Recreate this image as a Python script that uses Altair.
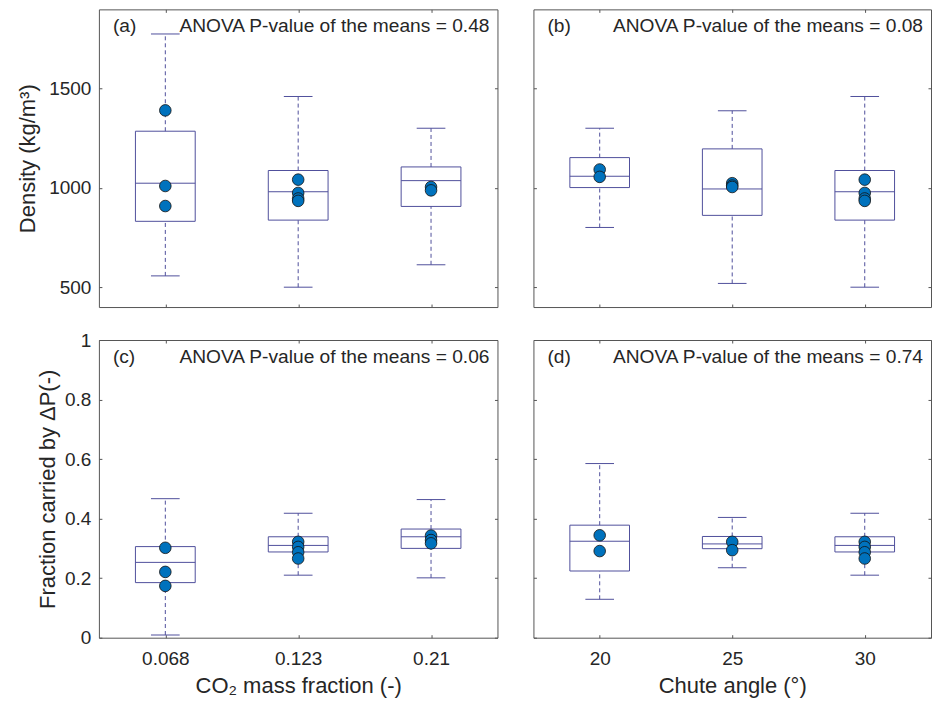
import json
import altair as alt
import pandas as pd

# ---------------- data ----------------
co2_cats = ["0.068", "0.123", "0.21"]
angle_cats = ["20", "25", "30"]

# (a) Density vs CO2 mass fraction: whisker low, Q1, median, Q3, whisker high
a_lower = [557, 500, 613]
a_q1 = [832, 838, 907]
a_med = [1024, 981, 1037]
a_q3 = [1286, 1088, 1106]
a_upper = [1776, 1461, 1301]
a_points = [[1391, 1010, 909], [1042, 975, 947, 935], [1005, 988]]

# (b) Density vs chute angle
b_lower = [801, 519, 500]
b_q1 = [1002, 862, 838]
b_med = [1059, 995, 981]
b_q3 = [1153, 1197, 1088]
b_upper = [1301, 1389, 1461]
b_points = [[1093, 1056], [1024, 1012, 1005], [1042, 975, 947, 935]]

# (c) Fraction carried by dP vs CO2 mass fraction
c_lower = [0.009, 0.210, 0.201]
c_q1 = [0.185, 0.288, 0.300]
c_med = [0.253, 0.310, 0.339]
c_q3 = [0.306, 0.339, 0.365]
c_upper = [0.467, 0.418, 0.464]
c_points = [[0.302, 0.221, 0.174], [0.322, 0.305, 0.287, 0.266], [0.343, 0.328, 0.317]]

# (d) Fraction carried by dP vs chute angle
d_lower = [0.129, 0.235, 0.210]
d_q1 = [0.224, 0.299, 0.288]
d_med = [0.324, 0.315, 0.310]
d_q3 = [0.378, 0.340, 0.339]
d_upper = [0.585, 0.404, 0.418]
d_points = [[0.344, 0.291], [0.322, 0.294], [0.322, 0.305, 0.287, 0.266]]

p_values = ["0.48", "0.08", "0.06", "0.74"]
letters = ["(a)", "(b)", "(c)", "(d)"]

density_ticks = [500, 1000, 1500]
fraction_ticks = [0, 0.2, 0.4, 0.6, 0.8, 1]

# ---------------- style ----------------
FONT = "Liberation Sans"
BOX_COLOR = "#4f4f9c"
DOT_COLOR = "#0072BD"
FRAME = "#555555"
TEXT = "#262626"
BOX_HALF = 0.225
CAP_HALF = 0.108


def panel(cats, lower, q1, med, q3, upper, pts, ydom, yvals, yfmt, letter, pval,
          show_xlab, show_ylab, xtitle, ytitle, width, height, ytitle_pad):
    n = len(cats)
    pos = list(range(1, n + 1))
    box_df = pd.DataFrame({"cat": cats, "pos": pos, "lower": lower, "q1": q1,
                           "med": med, "q3": q3, "upper": upper})
    box_df["lo"] = box_df["pos"] - BOX_HALF
    box_df["hi"] = box_df["pos"] + BOX_HALF
    box_df["clo"] = box_df["pos"] - CAP_HALF
    box_df["chi"] = box_df["pos"] + CAP_HALF
    pts_df = pd.DataFrame([{"cat": c, "pos": i + 1, "v": v}
                           for i, c in enumerate(cats) for v in pts[i]])

    xscale = alt.Scale(domain=[0.5, n + 0.5], nice=False, zero=False)
    yscale = alt.Scale(domain=ydom, nice=False, zero=False)
    label_expr = json.dumps(cats) + "[datum.value - 1]"

    common = dict(offset=-3, tickSize=3, domain=False, grid=False,
                  tickColor=FRAME, tickWidth=1)
    ax_bottom = alt.Axis(orient="bottom", values=pos, labelExpr=label_expr,
                         labels=show_xlab, title=xtitle if xtitle else None,
                         labelPadding=12, titlePadding=7, **common)
    ax_top = alt.Axis(orient="top", values=pos, labels=False, title=None, **common)
    ax_left = alt.Axis(orient="left", values=yvals, format=yfmt, labels=show_ylab,
                       title=ytitle if ytitle else None, labelPadding=8,
                       titlePadding=ytitle_pad, **common)
    ax_right = alt.Axis(orient="right", values=yvals, labels=False, title=None, **common)

    base = alt.Chart(box_df)

    box = base.mark_rect(fillOpacity=0, stroke=BOX_COLOR, strokeWidth=1).encode(
        x=alt.X("lo:Q", scale=xscale, axis=ax_bottom), x2="hi:Q",
        y=alt.Y("q1:Q", scale=yscale, axis=ax_left), y2="q3:Q")
    median = base.mark_rule(color=BOX_COLOR, strokeWidth=1).encode(
        x=alt.X("lo:Q", scale=xscale, axis=ax_top), x2="hi:Q",
        y=alt.Y("med:Q", scale=yscale, axis=ax_right))
    whisk_hi = base.mark_rule(color=BOX_COLOR, strokeWidth=1, strokeDash=[4, 3]).encode(
        x=alt.X("pos:Q", scale=xscale, axis=None),
        y=alt.Y("q3:Q", scale=yscale, axis=None), y2="upper:Q")
    whisk_lo = base.mark_rule(color=BOX_COLOR, strokeWidth=1, strokeDash=[4, 3]).encode(
        x=alt.X("pos:Q", scale=xscale, axis=None),
        y=alt.Y("lower:Q", scale=yscale, axis=None), y2="q1:Q")
    cap_hi = base.mark_rule(color=BOX_COLOR, strokeWidth=1).encode(
        x=alt.X("clo:Q", scale=xscale, axis=None), x2="chi:Q",
        y=alt.Y("upper:Q", scale=yscale, axis=None))
    cap_lo = base.mark_rule(color=BOX_COLOR, strokeWidth=1).encode(
        x=alt.X("clo:Q", scale=xscale, axis=None), x2="chi:Q",
        y=alt.Y("lower:Q", scale=yscale, axis=None))
    dots = alt.Chart(pts_df).mark_point(filled=True, size=135, fill=DOT_COLOR,
                                        stroke="#111111", strokeWidth=0.8,
                                        opacity=1).encode(
        x=alt.X("pos:Q", scale=xscale, axis=None),
        y=alt.Y("v:Q", scale=yscale, axis=None))

    txt_df = pd.DataFrame({"letter": [letter], "anova": ["ANOVA P-value of the means = " + pval]})
    t_letter = alt.Chart(txt_df).mark_text(font=FONT, fontSize=19.2, color=TEXT,
                                           align="left", baseline="middle").encode(
        text="letter:N", x=alt.value(14), y=alt.value(17))
    t_anova = alt.Chart(txt_df).mark_text(font=FONT, fontSize=19.2, color=TEXT,
                                          align="right", baseline="middle").encode(
        text="anova:N", x=alt.value(width - 8), y=alt.value(17))

    return alt.layer(box, whisk_hi, whisk_lo, cap_hi, cap_lo, median, dots,
                     t_letter, t_anova).resolve_axis(
        x="independent", y="independent").properties(width=width, height=height)


W_L, W_R, H = 399, 398, 298

pa = panel(co2_cats, a_lower, a_q1, a_med, a_q3, a_upper, a_points, [400, 1900],
           density_ticks, "d", letters[0], p_values[0], False, True, "",
           "Density (kg/m³)", W_L, H, 9)
pb = panel(angle_cats, b_lower, b_q1, b_med, b_q3, b_upper, b_points, [400, 1900],
           density_ticks, "d", letters[1], p_values[1], False, False, "", "", W_R, H, 8)
pc = panel(co2_cats, c_lower, c_q1, c_med, c_q3, c_upper, c_points, [0, 1],
           fraction_ticks, "~g", letters[2], p_values[2], True, True,
           "CO₂ mass fraction (-)", "Fraction carried by ΔP(-)", W_L, H, 5)
pd_ = panel(angle_cats, d_lower, d_q1, d_med, d_q3, d_upper, d_points, [0, 1],
            fraction_ticks, "~g", letters[3], p_values[3], True, False,
            "Chute angle (°)", "", W_R, H, 8)

chart = alt.concat(
    pa, pb, pc, pd_, columns=2, align="each",
    spacing={"row": 22, "column": 34},
).properties(
    padding={"left": 16, "top": 8, "right": 0, "bottom": 0},
    background="white",
).configure_view(
    stroke=FRAME, strokeWidth=1
).configure_axis(
    labelFont=FONT, labelFontSize=19, labelColor=TEXT,
    titleFont=FONT, titleFontSize=22, titleColor=TEXT, titleFontWeight="normal",
)

chart.save("out.html", embed_options={"renderer": "svg", "actions": False})
